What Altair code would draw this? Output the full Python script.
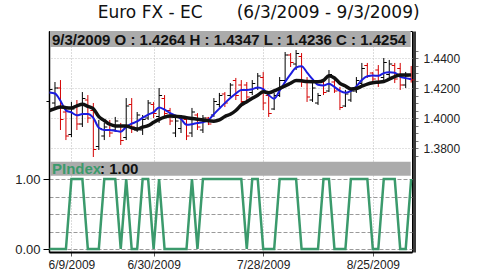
import altair as alt
import pandas as pd

# ---------------- data ----------------
dates = [f"{d.month}/{d.day}/{d.year}" for d in pd.bdate_range("2009-06-03", "2009-09-03")]

opens = [1.4110, 1.4100, 1.4200, 1.4040, 1.3890, 1.4080, 1.3960, 1.4120, 1.4050, 1.3810,
         1.3880, 1.3960, 1.3920, 1.3950, 1.3870, 1.4090, 1.3920, 1.3920, 1.4000, 1.4090,
         1.4010, 1.4130, 1.4050, 1.3900, 1.3930, 1.3990, 1.3900, 1.4020, 1.3920, 1.4000,
         1.4020, 1.4090, 1.4160, 1.4150, 1.4250, 1.4220, 1.4220, 1.4170, 1.4200, 1.4270,
         1.4150, 1.4060, 1.4150, 1.4250, 1.4420, 1.4360, 1.4410, 1.4250, 1.4120, 1.4100,
         1.4240, 1.4180, 1.4240, 1.4190, 1.4080, 1.4120, 1.4180, 1.4230, 1.4350, 1.4300,
         1.4320, 1.4270, 1.4290, 1.4350, 1.4330, 1.4220, 1.4264]
highs = [1.4220, 1.4240, 1.4253, 1.4067, 1.4107, 1.4120, 1.4173, 1.4153, 1.4100, 1.3987,
         1.3967, 1.3987, 1.4007, 1.3967, 1.4133, 1.4133, 1.4040, 1.4020, 1.4120, 1.4107,
         1.4200, 1.4153, 1.4067, 1.4007, 1.4020, 1.4007, 1.4067, 1.4033, 1.4020, 1.4007,
         1.4133, 1.4167, 1.4173, 1.4233, 1.4267, 1.4253, 1.4240, 1.4253, 1.4300, 1.4307,
         1.4173, 1.4167, 1.4273, 1.4440, 1.4433, 1.4453, 1.4433, 1.4273, 1.4233, 1.4167,
         1.4253, 1.4320, 1.4253, 1.4207, 1.4187, 1.4200, 1.4273, 1.4367, 1.4367, 1.4307,
         1.4353, 1.4400, 1.4387, 1.4367, 1.4367, 1.4307, 1.4347]
lows = [1.4087, 1.4073, 1.3920, 1.3853, 1.3873, 1.3920, 1.3940, 1.3967, 1.3740, 1.3787,
        1.3853, 1.3873, 1.3907, 1.3820, 1.3853, 1.3900, 1.3907, 1.3887, 1.3987, 1.4000,
        1.3967, 1.4007, 1.3953, 1.3873, 1.3900, 1.3853, 1.3873, 1.3920, 1.3900, 1.3953,
        1.4007, 1.4073, 1.4073, 1.4140, 1.4120, 1.4073, 1.4107, 1.4153, 1.4187, 1.4053,
        1.4007, 1.4053, 1.4140, 1.4233, 1.4340, 1.4320, 1.4207, 1.4107, 1.4107, 1.4087,
        1.4153, 1.4173, 1.4167, 1.4053, 1.4073, 1.4107, 1.4167, 1.4207, 1.4267, 1.4240,
        1.4207, 1.4253, 1.4273, 1.4233, 1.4187, 1.4200, 1.4236]
closes = [1.4190, 1.4200, 1.3990, 1.3880, 1.4060, 1.3960, 1.4130, 1.4000, 1.3790, 1.3930,
          1.3940, 1.3900, 1.3980, 1.3850, 1.4080, 1.3940, 1.4020, 1.3990, 1.4100, 1.4030,
          1.4150, 1.4030, 1.3980, 1.3980, 1.4000, 1.3880, 1.4040, 1.3940, 1.4000, 1.3960,
          1.4110, 1.4150, 1.4100, 1.4220, 1.4150, 1.4110, 1.4140, 1.4230, 1.4280, 1.4100,
          1.4030, 1.4150, 1.4250, 1.4420, 1.4370, 1.4430, 1.4240, 1.4140, 1.4200, 1.4150,
          1.4170, 1.4290, 1.4180, 1.4070, 1.4160, 1.4180, 1.4250, 1.4330, 1.4280, 1.4260,
          1.4240, 1.4370, 1.4360, 1.4260, 1.4220, 1.4280, 1.4254]
ma_fast = [1.4170, 1.4163, 1.4115, 1.4051, 1.4037, 1.4018, 1.4026, 1.4027, 1.4001, 1.3935,
           1.3920, 1.3920, 1.3915, 1.3909, 1.3941, 1.3962, 1.3977, 1.4002, 1.4023, 1.4039,
           1.4070, 1.4056, 1.4033, 1.4015, 1.3993, 1.3955, 1.3959, 1.3967, 1.3972, 1.3987,
           1.4026, 1.4063, 1.4099, 1.4133, 1.4163, 1.4187, 1.4187, 1.4192, 1.4203, 1.4193,
           1.4153, 1.4129, 1.4183, 1.4241, 1.4293, 1.4336, 1.4345, 1.4303, 1.4259, 1.4222,
           1.4217, 1.4229, 1.4207, 1.4181, 1.4169, 1.4181, 1.4211, 1.4253, 1.4278, 1.4283,
           1.4281, 1.4299, 1.4305, 1.4302, 1.4275, 1.4266, 1.4258]
ma_slow = [1.4050, 1.4062, 1.4074, 1.4069, 1.4067, 1.4081, 1.4091, 1.4078, 1.4062, 1.4009,
           1.3983, 1.3958, 1.3947, 1.3947, 1.3947, 1.3934, 1.3926, 1.3939, 1.3949, 1.3971,
           1.3991, 1.4006, 1.4013, 1.4011, 1.4009, 1.4002, 1.3997, 1.3992, 1.3987, 1.3981,
           1.3979, 1.3987, 1.4010, 1.4025, 1.4050, 1.4087, 1.4109, 1.4131, 1.4152, 1.4175,
           1.4168, 1.4181, 1.4197, 1.4214, 1.4232, 1.4250, 1.4248, 1.4243, 1.4242, 1.4242,
           1.4251, 1.4282, 1.4267, 1.4231, 1.4213, 1.4194, 1.4197, 1.4212, 1.4226, 1.4235,
           1.4239, 1.4243, 1.4259, 1.4276, 1.4287, 1.4287, 1.4287]
pindex = [0, 0, 0, 0, 1, 1, 1, 0, 0, 0,
          1, 1, 1, 0, 1, 0, 0, 1, 1, 0,
          1, 0, 0, 0, 0, 0, 1, 0, 1, 1,
          1, 1, 1, 1, 1, 1, 0, 1, 1, 0,
          0, 0, 1, 1, 1, 1, 0, 0, 0, 0,
          1, 1, 0, 0, 0, 1, 1, 1, 1, 0,
          0, 1, 1, 1, 0, 0, 1]

date_tick_idx = [4, 19, 39, 59]
price_tick_values = [1.375, 1.380, 1.385, 1.390, 1.395, 1.400, 1.405, 1.410, 1.415,
                     1.420, 1.425, 1.430, 1.435, 1.440, 1.445]
price_labels = ["1.3800", "1.4000", "1.4200", "1.4400"]
pindex_tick_values = [0, 0.25, 0.5, 0.75, 1]

title_left = "Euro FX - EC"
title_right = "(6/3/2009 - 9/3/2009)"
header_top = "9/3/2009  O : 1.4264  H : 1.4347  L : 1.4236  C : 1.4254"
header_bottom_name = "PIndex"
header_bottom_value = ": 1.00"

df = pd.DataFrame({"i": list(range(len(dates))), "date": dates, "o": opens, "h": highs,
                   "l": lows, "c": closes, "fast": ma_fast, "slow": ma_slow, "p": pindex})

# ---------------- layout ----------------
W, H = 363, 221
X_DOMAIN = [-0.09, 66.15]
PRICE_DOMAIN = [1.310667, 1.458]
PIDX_DOMAIN = [-0.042857, 3.114286]

GREEN = "#3b9a6c"
RED = "#d40000"
FONT = "Liberation Sans"

expr = "''"
for k, lab in reversed(list(zip(date_tick_idx, [dates[k] for k in date_tick_idx]))):
    expr = f"datum.value == {k} ? '{lab}' : ({expr})"

x_axis = alt.Axis(values=date_tick_idx, labelExpr=expr, title=None, grid=True,
                  gridColor="#b8b8b8", gridDash=[1, 2], tickSize=4, tickColor="#555",
                  domainColor="black", domainWidth=2, labelFont=FONT, labelFontSize=12,
                  labelColor="#222", labelPadding=3, labelFlush=False)
x_scale = alt.Scale(domain=X_DOMAIN, nice=False, zero=False)


def xq(field):
    return alt.X(field, type="quantitative", scale=x_scale, axis=x_axis)


label_test = "indexof(" + str(price_labels) + ", format(datum.value, '.4f')) >= 0"
price_axis = alt.Axis(orient="right", values=price_tick_values,
                      labelExpr=f"{label_test} ? format(datum.value, '.4f') : ''",
                      grid=True,
                      gridColor={"condition": {"test": label_test, "value": "#c4c4c4"},
                                 "value": "transparent"},
                      gridDash=[1, 2], title=None, domainColor="#3a3a3a", domainWidth=3,
                      offset=2, tickSize=4, tickColor="#777", labelFont=FONT,
                      labelFontSize=12, labelColor="#222", labelPadding=5)
price_scale = alt.Scale(domain=PRICE_DOMAIN, nice=False, zero=False)

pidx_axis = alt.Axis(orient="left", values=pindex_tick_values,
                     labelExpr="datum.value == 1 ? '1.00' : (datum.value == 0 ? '0.00' : '')",
                     tickColor={"condition": {"test": "datum.value == 0 || datum.value == 1",
                                              "value": "black"}, "value": "transparent"},
                     grid=True, gridColor="#9a9a9a", gridDash=[4, 2], domainColor="black",
                     domainWidth=1.5, tickSize=6, labelPadding=3, labelFont=FONT,
                     labelFontSize=13, labelColor="#222", title=None)
pidx_scale = alt.Scale(domain=PIDX_DOMAIN, nice=False, zero=False)

base = alt.Chart(df)
bar_color = alt.condition("datum.c < datum.o", alt.value(RED), alt.value("black"))

hl = base.mark_rule(strokeWidth=1).encode(
    x=xq("i"), y=alt.Y("l:Q", scale=price_scale, axis=price_axis), y2="h:Q", color=bar_color)
open_tick = base.transform_calculate(xl="datum.i - 0.55").mark_rule(strokeWidth=1).encode(
    x=xq("xl"), x2="i:Q", y=alt.Y("o:Q", scale=price_scale, axis=price_axis), color=bar_color)
close_tick = base.transform_calculate(xr="datum.i + 0.55").mark_rule(strokeWidth=1).encode(
    x=xq("i"), x2="xr:Q", y=alt.Y("c:Q", scale=price_scale, axis=price_axis), color=bar_color)
fast_line = base.mark_line(color="#1c1ce0", strokeWidth=2, interpolate="monotone").encode(
    x=xq("i"), y=alt.Y("fast:Q", scale=price_scale, axis=price_axis))
slow_line = base.mark_line(color="#111111", strokeWidth=3.5, interpolate="monotone").encode(
    x=xq("i"), y=alt.Y("slow:Q", scale=price_scale, axis=price_axis))

price_panel = alt.layer(hl, open_tick, close_tick, fast_line, slow_line)

pidx_line = base.mark_line(color=GREEN, strokeWidth=2.5).encode(
    x=xq("i"), y=alt.Y("p:Q", scale=pidx_scale, axis=pidx_axis))
pidx_panel = alt.layer(pidx_line)

one = pd.DataFrame({"a": [0]})
rect_top = alt.Chart(one).mark_rect(color="#ababab").encode(
    x=alt.value(1), x2=alt.value(361.7), y=alt.value(0), y2=alt.value(16))
rect_bottom = alt.Chart(one).mark_rect(color="#ababab").encode(
    x=alt.value(1), x2=alt.value(361.7), y=alt.value(130.7), y2=alt.value(144.7))


def text_layer(txt, x, y, size, color, weight="normal", font=FONT):
    return alt.Chart(pd.DataFrame({"t": [txt]})).mark_text(
        align="left", baseline="alphabetic", font=font, fontSize=size,
        fontWeight=weight, color=color).encode(text="t:N", x=alt.value(x), y=alt.value(y))


t1 = text_layer(title_left, 48.7, -12.7, 17, "#111", font="DejaVu Sans")
t2 = text_layer(title_right, 187.7, -12.7, 17, "#111", font="DejaVu Sans")
t3 = text_layer(header_top, 3, 14, 15, "#111", "bold")
t4 = text_layer(header_bottom_name, 3, 143, 15, GREEN, "bold")
t5 = text_layer(header_bottom_value, 51, 143, 15, "#111", "bold")

chart = alt.layer(price_panel, pidx_panel, rect_top, rect_bottom, t1, t2, t3, t4, t5).resolve_scale(
    y="independent"
).properties(
    width=W, height=H,
    padding={"left": 49, "top": 31, "right": 79, "bottom": 20},
    autosize=alt.AutoSizeParams(type="none"),
    background="white",
).configure_view(stroke="black", strokeWidth=1)

chart.save("out.html", embed_options={"renderer": "svg", "actions": False})
